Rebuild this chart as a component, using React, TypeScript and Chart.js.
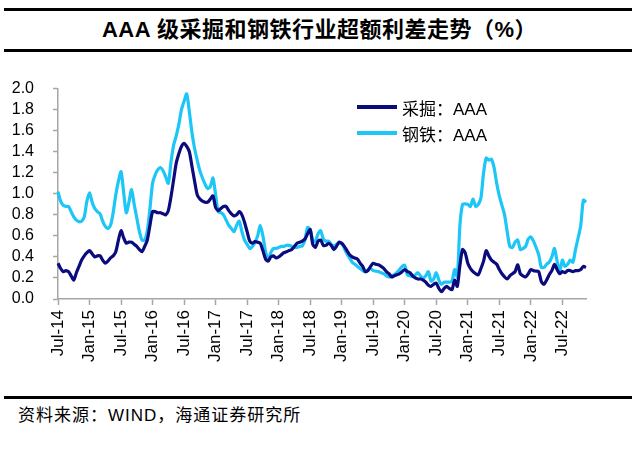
import React, { useEffect, useRef } from 'react';
import { Chart, registerables } from 'chart.js';

Chart.register(...registerables);

// semi-monthly readings, Jul 2014 .. Nov 2022 (two values per month)
const miningAAA = [
  0.34, 0.29, 0.26, 0.27, 0.26, 0.22, 0.18, 0.25, 0.31, 0.37, 0.41, 0.44,
  0.46, 0.43, 0.40, 0.41, 0.41, 0.37, 0.34, 0.36, 0.39, 0.41, 0.45, 0.56,
  0.65, 0.58, 0.53, 0.54, 0.54, 0.52, 0.50, 0.47, 0.45, 0.50, 0.56, 0.70,
  0.83, 0.83, 0.82, 0.82, 0.81, 0.80, 0.84, 0.97, 1.13, 1.29, 1.38, 1.45,
  1.48, 1.45, 1.40, 1.26, 1.12, 0.99, 0.95, 0.93, 0.92, 0.92, 0.95, 0.98,
  0.87, 0.84, 0.86, 0.88, 0.88, 0.84, 0.81, 0.79, 0.80, 0.83, 0.80, 0.73,
  0.64, 0.55, 0.53, 0.545, 0.54, 0.53, 0.46, 0.38, 0.36, 0.40, 0.41, 0.39,
  0.40, 0.42, 0.44, 0.45, 0.46, 0.47, 0.50, 0.53, 0.54, 0.55, 0.57, 0.62,
  0.66, 0.52, 0.49, 0.55, 0.56, 0.51, 0.51, 0.53, 0.51, 0.47, 0.50, 0.54,
  0.53, 0.50, 0.46, 0.42, 0.40, 0.39, 0.38, 0.34, 0.31, 0.26, 0.27, 0.31,
  0.34, 0.33, 0.325, 0.31, 0.29, 0.26, 0.24, 0.21, 0.22, 0.23, 0.24, 0.26,
  0.28, 0.26, 0.25, 0.22, 0.20, 0.19, 0.19, 0.18, 0.16, 0.13, 0.12, 0.14,
  0.15, 0.10, 0.07, 0.10, 0.12, 0.10, 0.09, 0.18, 0.12, 0.32, 0.47, 0.44,
  0.34, 0.29, 0.26, 0.24, 0.23, 0.29, 0.36, 0.46, 0.41, 0.37, 0.35, 0.33,
  0.28, 0.24, 0.21, 0.19, 0.22, 0.24, 0.26, 0.325, 0.24, 0.22, 0.21, 0.24,
  0.28, 0.27, 0.265, 0.26, 0.165, 0.14, 0.18, 0.23, 0.27, 0.33, 0.28, 0.24,
  0.26, 0.25, 0.27, 0.27, 0.26, 0.27, 0.27, 0.28, 0.31, 0.30,
];

const steelAAA = [
  1.02, 0.93, 0.89, 0.88, 0.88, 0.83, 0.78, 0.75, 0.735, 0.74, 0.78, 0.93,
  1.01, 0.92, 0.86, 0.83, 0.81, 0.74, 0.69, 0.67, 0.70, 0.82, 0.99, 1.12,
  1.21, 1.01, 0.82, 0.92, 1.04, 0.90, 0.77, 0.64, 0.56, 0.56, 0.65, 0.86,
  1.10, 1.18, 1.23, 1.25, 1.22, 1.16, 1.10, 1.30, 1.46, 1.55, 1.66, 1.80,
  1.88, 1.95, 1.78, 1.58, 1.43, 1.32, 1.22, 1.15, 1.09, 1.05, 1.07, 1.15,
  0.99, 0.83, 0.82, 0.80, 0.75, 0.70, 0.67, 0.64, 0.70, 0.74, 0.64, 0.56,
  0.52, 0.48, 0.50, 0.54, 0.60, 0.70, 0.60, 0.45, 0.37, 0.44, 0.48, 0.48,
  0.49, 0.50, 0.50, 0.51, 0.51, 0.50, 0.49, 0.49, 0.50, 0.505, 0.56, 0.68,
  0.66, 0.56, 0.55, 0.62, 0.65, 0.57, 0.55, 0.55, 0.52, 0.50, 0.52, 0.53,
  0.53, 0.48, 0.43, 0.39, 0.35, 0.33, 0.31, 0.29, 0.27, 0.26, 0.28, 0.29,
  0.27, 0.265, 0.26, 0.25, 0.24, 0.22, 0.21, 0.22, 0.23, 0.25, 0.28, 0.31,
  0.32, 0.23, 0.22, 0.213, 0.23, 0.25, 0.22, 0.196, 0.22, 0.26, 0.17, 0.19,
  0.25, 0.18, 0.14, 0.16, 0.16, 0.16, 0.17, 0.28, 0.21, 0.70, 0.90, 0.905,
  0.90, 0.88, 0.95, 0.88, 0.90, 0.96, 1.20, 1.34, 1.32, 1.33, 1.25, 1.10,
  0.98, 0.89, 0.80, 0.64, 0.50, 0.49, 0.54, 0.56, 0.47, 0.48, 0.50, 0.57,
  0.59, 0.55, 0.49, 0.42, 0.30, 0.30, 0.33, 0.35, 0.40, 0.48, 0.36, 0.26,
  0.37, 0.31, 0.33, 0.37, 0.35, 0.47, 0.58, 0.70, 0.94, 0.92,
];

// one label every six months (every 12th half-month point)
const tickLabels = [
  'Jul-14', 'Jan-15', 'Jul-15', 'Jan-16', 'Jul-16', 'Jan-17', 'Jul-17', 'Jan-18', 'Jul-18',
  'Jan-19', 'Jul-19', 'Jan-20', 'Jul-20', 'Jan-21', 'Jul-21', 'Jan-22', 'Jul-22',
];

const yTicks = [0, 0.2, 0.4, 0.6, 0.8, 1.0, 1.2, 1.4, 1.6, 1.8, 2.0];

const seriesNames = ['采掘：AAA', '钢铁：AAA'];
const seriesColors = ['#0b0b7d', '#1cc6f7'];

const periods: string[] = miningAAA.map((_, i) => {
  const m = 6 + Math.floor(i / 2);
  const y = 2014 + Math.floor(m / 12);
  return `${y}-${String((m % 12) + 1).padStart(2, '0')}${i % 2 ? 'b' : 'a'}`;
});

const latin = '"Liberation Sans", Arial, sans-serif';
const cjk = '"Liberation Sans", "Noto Sans CJK SC", sans-serif';
const axisGray = '#a6a6a6';

const App: React.FC = () => {
  const chartRef = useRef<HTMLCanvasElement | null>(null);

  useEffect(() => {
    if (!chartRef.current) return;

    const myChart = new Chart(chartRef.current, {
      type: 'line',
      data: {
        labels: periods,
        datasets: [
          {
            label: seriesNames[0],
            data: miningAAA,
            borderColor: seriesColors[0],
            borderWidth: 3.2,
            pointRadius: 0,
            tension: 0.25,
          },
          {
            label: seriesNames[1],
            data: steelAAA,
            borderColor: seriesColors[1],
            borderWidth: 3.2,
            pointRadius: 0,
            tension: 0.25,
          },
        ],
      },
      options: {
        animation: false,
        responsive: false,
        layout: { padding: { left: 8, right: 53, top: 0, bottom: 0 } },
        plugins: {
          legend: { display: false },
          tooltip: { enabled: false },
        },
        scales: {
          x: {
            type: 'category',
            afterFit: (s: any) => {
              s.height = 81;
            },
            grid: {
              display: true,
              drawOnChartArea: false,
              drawTicks: true,
              tickLength: 6,
              tickWidth: 1.5,
              tickColor: (ctx: any) => (ctx.index % 12 === 0 ? axisGray : 'rgba(0,0,0,0)'),
            },
            border: { display: true, color: axisGray, width: 1.5 },
            ticks: {
              autoSkip: false,
              minRotation: 90,
              maxRotation: 90,
              padding: 5,
              color: '#000',
              font: { family: latin, size: 17 },
              callback: (_v: any, index: number) => (index % 12 === 0 ? tickLabels[index / 12] : ''),
            },
          },
          y: {
            min: 0,
            max: 2,
            afterFit: (s: any) => {
              s.width = 50;
            },
            afterBuildTicks: (s: any) => {
              s.ticks = yTicks.map((v) => ({ value: v }));
            },
            grid: {
              display: true,
              drawOnChartArea: false,
              drawTicks: true,
              tickLength: 5,
              tickWidth: 1.5,
              tickColor: axisGray,
            },
            border: { display: true, color: axisGray, width: 1.5 },
            ticks: {
              autoSkip: false,
              padding: 19,
              color: '#000',
              font: { family: latin, size: 16 },
              callback: (v: any) => Number(v).toFixed(1),
            },
          },
        },
      },
    });

    return () => {
      myChart.destroy();
    };
  }, []);

  const rule = (top: number) => (
    <div style={{ position: 'absolute', left: 4, width: 628, top, height: 3, background: '#000' }} />
  );

  return (
    <div style={{ position: 'absolute', left: 0, top: 0, width: 639, height: 458, background: '#fff' }}>
      {rule(8)}
      <div
        style={{
          position: 'absolute',
          left: 0,
          width: 639,
          top: 15,
          height: 30,
          lineHeight: '30px',
          textAlign: 'center',
          fontFamily: cjk,
          fontWeight: 'bold',
          fontSize: 22,
          letterSpacing: 0.5,
          color: '#000',
        }}
      >
        AAA 级采掘和钢铁行业超额利差走势（%）
      </div>
      {rule(49)}

      <canvas
        ref={chartRef}
        width={639}
        height={320}
        style={{ position: 'absolute', left: 0, top: 60, width: 639, height: 320 }}
      />

      {seriesNames.map((name, i) => (
        <div
          key={name}
          style={{
            position: 'absolute',
            left: 357,
            top: 94 + i * 26,
            height: 26,
            display: 'flex',
            alignItems: 'center',
            fontFamily: cjk,
            fontSize: 17,
            color: '#000',
            whiteSpace: 'nowrap',
          }}
        >
          <span style={{ display: 'inline-block', width: 40, height: 3.5, background: seriesColors[i], marginRight: 5 }} />
          {name}
        </div>
      ))}

      {rule(396)}
      <div
        style={{
          position: 'absolute',
          left: 18,
          top: 404,
          height: 24,
          lineHeight: '24px',
          fontFamily: cjk,
          fontSize: 17,
          letterSpacing: 1,
          color: '#000',
          whiteSpace: 'nowrap',
        }}
      >
        资料来源：WIND，海通证券研究所
      </div>
    </div>
  );
};

export default App;
